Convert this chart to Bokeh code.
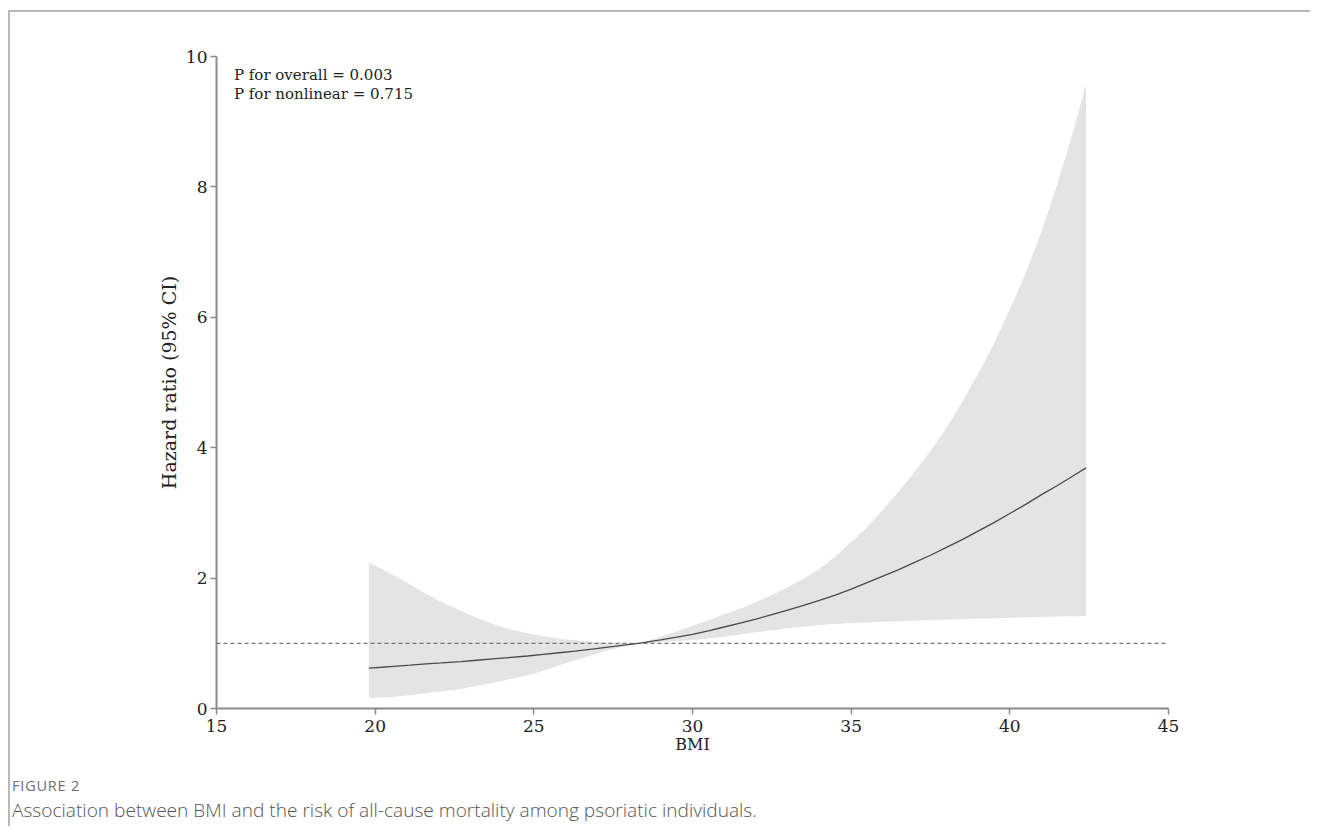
from bokeh.plotting import figure
from bokeh.models import Span, Label, Range1d, FixedTicker, ColumnDataSource, Div
from bokeh.layouts import column
from bokeh.embed import file_html
from bokeh.resources import INLINE

# BMI grid and estimated hazard ratios with 95% CI
bmi = [19.8, 20.2, 20.6, 21.1, 21.6, 22.1, 22.7, 23.2, 23.7, 24.2, 24.8, 25.3, 25.8,
       26.3, 26.9, 27.4, 27.9, 28.3, 29.0, 29.5, 30.0, 30.5, 31.0, 31.5, 32.0, 32.5,
       33.0, 33.5, 34.0, 34.5, 35.0, 35.5, 36.0, 36.5, 37.0, 37.5, 38.0, 38.5, 39.0,
       39.5, 40.0, 40.5, 41.0, 41.5, 42.0, 42.4]
hr = [0.62, 0.633, 0.647, 0.665, 0.685, 0.70, 0.72, 0.74, 0.76, 0.78, 0.805, 0.83, 0.855,
      0.88, 0.913, 0.945, 0.975, 1.00, 1.054, 1.094, 1.137, 1.19, 1.25, 1.31, 1.37, 1.44,
      1.51, 1.58, 1.66, 1.74, 1.83, 1.93, 2.03, 2.13, 2.24, 2.35, 2.47, 2.59, 2.72,
      2.85, 2.99, 3.13, 3.28, 3.42, 3.57, 3.69]
upper = [2.24, 2.14, 2.04, 1.90, 1.76, 1.63, 1.50, 1.39, 1.30, 1.22, 1.155, 1.11, 1.07,
         1.045, 1.02, 1.008, 1.00, 1.00, 1.10, 1.18, 1.27, 1.355, 1.445, 1.53, 1.63, 1.74,
         1.86, 1.99, 2.14, 2.33, 2.55, 2.78, 3.05, 3.33, 3.63, 3.95, 4.30, 4.70, 5.13,
         5.60, 6.12, 6.68, 7.32, 8.05, 8.85, 9.58]
lower = [0.164, 0.17, 0.18, 0.205, 0.235, 0.265, 0.30, 0.345, 0.39, 0.445, 0.506, 0.58, 0.66,
         0.74, 0.83, 0.90, 0.955, 1.00, 1.02, 1.035, 1.05, 1.075, 1.10, 1.135, 1.17, 1.20,
         1.23, 1.255, 1.28, 1.295, 1.31, 1.32, 1.33, 1.34, 1.35, 1.355, 1.36, 1.37, 1.38,
         1.385, 1.39, 1.40, 1.405, 1.41, 1.415, 1.42]

x_ticks = [15, 20, 25, 30, 35, 40, 45]
y_ticks = [0, 2, 4, 6, 8, 10]
reference_hr = 1.0
p_text = ["P for overall = 0.003", "P for nonlinear = 0.715"]
caption_head = "FIGURE 2"
caption = "Association between BMI and the risk of all-cause mortality among psoriatic individuals."

SERIF = "DejaVu Serif"
AXIS_COLOR = "#8a8a8a"
TEXT_COLOR = "#222222"

src = ColumnDataSource(dict(x=bmi, hr=hr, lo=lower, hi=upper))

p = figure(width=1300, height=748, output_backend="svg", toolbar_location=None,
           x_range=Range1d(15, 45), y_range=Range1d(0, 10),
           min_border_left=206, min_border_right=142, min_border_top=44, min_border_bottom=52)
p.outline_line_color = None
p.grid.visible = False
p.background_fill_color = "white"
p.border_fill_color = "white"

p.varea(x="x", y1="lo", y2="hi", source=src, fill_color="#e4e4e4", fill_alpha=1.0)
p.line(x="x", y="hr", source=src, line_color="#4a4a4a", line_width=1.3)
p.add_layout(Span(location=reference_hr, dimension="width", line_color="#555555",
                  line_width=1, line_dash="4 3"))

for ax in (p.xaxis[0], p.yaxis[0]):
    ax.axis_line_color = AXIS_COLOR
    ax.axis_line_width = 2
    ax.major_tick_line_color = AXIS_COLOR
    ax.major_tick_line_width = 1.5
    ax.major_tick_out = 6
    ax.major_tick_in = 0
    ax.minor_tick_line_color = None
    ax.major_label_text_font = SERIF
    ax.major_label_text_font_size = "17px"
    ax.major_label_text_color = TEXT_COLOR
    ax.axis_label_text_font = SERIF
    ax.axis_label_text_font_style = "normal"
    ax.axis_label_text_color = TEXT_COLOR

p.xaxis.ticker = FixedTicker(ticks=x_ticks)
p.yaxis.ticker = FixedTicker(ticks=y_ticks)
p.xaxis.axis_label = "BMI"
p.yaxis.axis_label = "Hazard ratio (95% CI)"
p.xaxis.axis_label_text_font_size = "16px"
p.yaxis.axis_label_text_font_size = "19px"
p.xaxis.major_label_standoff = 5
p.xaxis.axis_label_standoff = 0
p.yaxis.major_label_standoff = 3
p.yaxis.axis_label_standoff = 3

# P-value annotation (top-left, inside the frame)
p.add_layout(Label(x=15.55, y=9.72, text=p_text[0], text_font=SERIF, text_font_size="15px",
                   text_color=TEXT_COLOR, text_baseline="middle"))
p.add_layout(Label(x=15.55, y=9.42, text=p_text[1], text_font=SERIF, text_font_size="15px",
                   text_color=TEXT_COLOR, text_baseline="middle"))

# caption below the chart
cap = Div(
    text=(f'<div style="font-family:\'Open Sans\';font-size:14.5px;line-height:18px;'
          f'letter-spacing:0.8px;color:#6e6e6e;padding-top:17px;padding-left:2px">{caption_head}</div>'
          f'<div style="font-family:\'Open Sans\';font-size:19.1px;line-height:24px;'
          f'font-weight:300;color:#555555;padding-top:3px;padding-left:2px">{caption}</div>'),
    width=1300, height=66, margin=(0, 0, 0, 0))

layout = column(p, cap, margin=(10, 0, 0, 8),
                styles={"border-top": "2px solid #b8b8b8", "border-left": "2px solid #b8b8b8"})
open("out.html", "w").write(file_html(layout, INLINE))
